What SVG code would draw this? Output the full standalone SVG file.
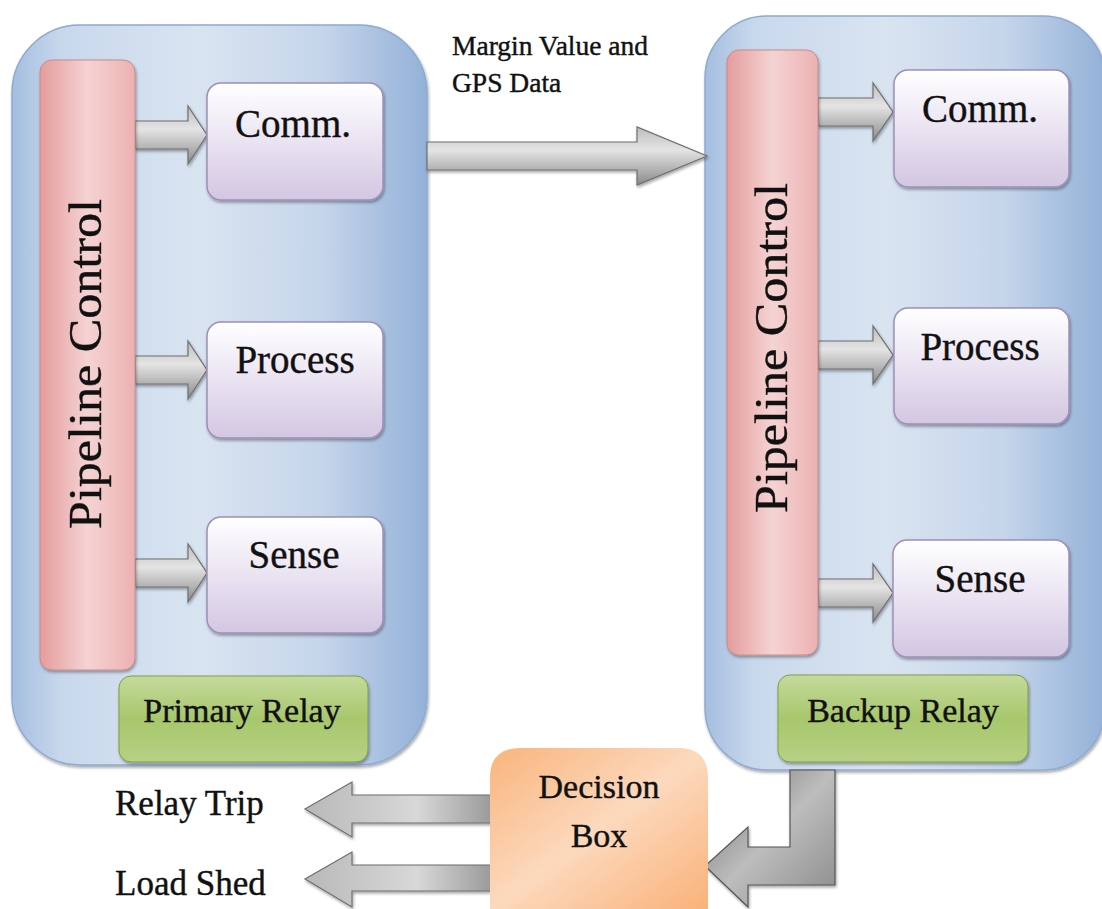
<svg xmlns="http://www.w3.org/2000/svg" width="1102" height="909" viewBox="0 0 1102 909">
<defs>
<linearGradient id="gCont" x1="0" y1="0" x2="1" y2="0">
<stop offset="0" stop-color="#a4bee0"/>
<stop offset="0.12" stop-color="#c8d8ec"/>
<stop offset="0.45" stop-color="#d9e4f1"/>
<stop offset="0.75" stop-color="#c5d5ea"/>
<stop offset="1" stop-color="#93b1d8"/>
</linearGradient>
<linearGradient id="gPipe" x1="0" y1="0" x2="1" y2="0">
<stop offset="0" stop-color="#e59c9c"/>
<stop offset="0.5" stop-color="#f5d3d3"/>
<stop offset="1" stop-color="#ecb1b1"/>
</linearGradient>
<linearGradient id="gBox" x1="0" y1="0" x2="0" y2="1">
<stop offset="0" stop-color="#ffffff"/>
<stop offset="0.45" stop-color="#ece6f3"/>
<stop offset="1" stop-color="#d3c6e2"/>
</linearGradient>
<linearGradient id="gGreen" x1="0" y1="0" x2="0" y2="1">
<stop offset="0" stop-color="#c4da9c"/>
<stop offset="0.5" stop-color="#a8c76c"/>
<stop offset="1" stop-color="#b6d184"/>
</linearGradient>
<linearGradient id="gOrange" x1="0" y1="0" x2="1" y2="1">
<stop offset="0" stop-color="#f9b47c"/>
<stop offset="0.5" stop-color="#fcd9bd"/>
<stop offset="1" stop-color="#f9b27a"/>
</linearGradient>
<linearGradient id="gArrH" x1="0" y1="0" x2="0" y2="1">
<stop offset="0" stop-color="#bdbdbd"/>
<stop offset="0.4" stop-color="#e4e4e4"/>
<stop offset="1" stop-color="#8a8a8a"/>
</linearGradient>
<linearGradient id="gArrL" x1="0" y1="0" x2="1" y2="0">
<stop offset="0" stop-color="#b8b8b8"/>
<stop offset="0.6" stop-color="#d8d8d8"/>
<stop offset="1" stop-color="#9a9a9a"/>
</linearGradient>
<linearGradient id="gBent" x1="0" y1="0" x2="1" y2="1">
<stop offset="0" stop-color="#6e6e6e"/>
<stop offset="0.5" stop-color="#bdbdbd"/>
<stop offset="1" stop-color="#8a8a8a"/>
</linearGradient>
<filter id="sh" x="-10%" y="-10%" width="120%" height="120%">
<feDropShadow dx="1" dy="2" stdDeviation="1.5" flood-color="#000" flood-opacity="0.35"/>
</filter>
</defs>
<style>
.cont{fill:url(#gCont);stroke:#8eaad0;stroke-width:1.5;filter:url(#sh)}
.pipe{fill:url(#gPipe);stroke:#c98a8a;stroke-width:1;filter:url(#sh)}
.box{fill:url(#gBox);stroke:#9d90b8;stroke-width:1.5;filter:url(#sh)}
.grn{fill:url(#gGreen);stroke:#7f9f45;stroke-width:1;filter:url(#sh)}
.org{fill:url(#gOrange);stroke:none}
.arr{fill:url(#gArrH);stroke:#6f6f6f;stroke-width:1.2;filter:url(#sh)}
.arrl{fill:url(#gArrL);stroke:#6f6f6f;stroke-width:1.2;filter:url(#sh)}
.bent{fill:url(#gBent);stroke:#555;stroke-width:1.2;filter:url(#sh)}
text{font-family:"Liberation Serif","Times New Roman",serif;fill:#111;stroke:#111;stroke-width:0.4}
.t39{font-size:39px}
.t46{font-size:46px}
.t34{font-size:34px}
.t35{font-size:35px}
.t27{font-size:27.5px}
</style>

<g id="primary-relay">
<rect class="cont" x="12" y="25" width="415" height="740" rx="68"/>
</g>
<g id="backup-relay">
<rect class="cont" x="705" y="16" width="400" height="754" rx="62"/>
</g>

<g id="connectors">
<path id="c-p-comm" class="arr" d="M135,121 H188 V106 L207,135 L188,164 V149 H135 Z"/>
<path id="c-p-process" class="arr" d="M135,356 H188 V341 L207,370 L188,399 V384 H135 Z"/>
<path id="c-p-sense" class="arr" d="M135,559 H188 V544 L207,573 L188,602 V587 H135 Z"/>
<path id="c-b-comm" class="arr" d="M818,98 H873 V83 L893,112 L873,141 V126 H818 Z"/>
<path id="c-b-process" class="arr" d="M818,341 H873 V326 L893,355 L873,384 V369 H818 Z"/>
<path id="c-b-sense" class="arr" d="M818,579 H873 V564 L893,593 L873,622 V607 H818 Z"/>
<path id="c-margin" class="arr" d="M427,142 H637 V127 L707,156 L637,185 V170 H427 Z"/>
<path id="c-trip" class="arrl" d="M492,795 H352 V782 L305,809 L352,837 V823 H492 Z"/>
<path id="c-shed" class="arrl" d="M492,865 H352 V852 L305,879 L352,907 V891 H492 Z"/>
<path id="c-bent" class="bent" d="M790,770 H835 V885 H748 V907 L705,866 L748,827 V847 H790 Z"/>
</g>

<g id="primary-pipeline">
<rect class="pipe" x="40" y="60" width="95" height="610" rx="12"/>
<text class="t46" transform="translate(101,364) rotate(-90)" text-anchor="middle" textLength="330" lengthAdjust="spacingAndGlyphs">Pipeline Control</text>
</g>
<g id="primary-comm">
<rect class="box" x="207" y="83" width="176" height="117" rx="14"/>
<text class="t39" x="293" y="137" text-anchor="middle">Comm.</text>
</g>
<g id="primary-process">
<rect class="box" x="207" y="322" width="176" height="116" rx="14"/>
<text class="t39" x="295" y="373" text-anchor="middle">Process</text>
</g>
<g id="primary-sense">
<rect class="box" x="207" y="517" width="176" height="116" rx="14"/>
<text class="t39" x="294" y="568" text-anchor="middle">Sense</text>
</g>
<g id="primary-label">
<rect class="grn" x="119" y="676" width="249" height="86" rx="12"/>
<text class="t34" x="242" y="722" text-anchor="middle">Primary Relay</text>
</g>

<g id="backup-pipeline">
<rect class="pipe" x="727" y="50" width="91" height="605" rx="12"/>
<text class="t46" transform="translate(787,348) rotate(-90)" text-anchor="middle" textLength="330" lengthAdjust="spacingAndGlyphs">Pipeline Control</text>
</g>
<g id="backup-comm">
<rect class="box" x="894" y="70" width="175" height="117" rx="14"/>
<text class="t39" x="980" y="122" text-anchor="middle">Comm.</text>
</g>
<g id="backup-process">
<rect class="box" x="894" y="308" width="175" height="116" rx="14"/>
<text class="t39" x="980" y="360" text-anchor="middle">Process</text>
</g>
<g id="backup-sense">
<rect class="box" x="893" y="540" width="176" height="117" rx="14"/>
<text class="t39" x="980" y="592" text-anchor="middle">Sense</text>
</g>
<g id="backup-label">
<rect class="grn" x="778" y="675" width="250" height="87" rx="12"/>
<text class="t34" x="903" y="722" text-anchor="middle">Backup Relay</text>
</g>

<g id="decision-box">
<path class="org" d="M520,748 H678 Q708,748 708,778 V909 H490 V778 Q490,748 520,748 Z"/>
<text class="t34" x="599" y="798" text-anchor="middle">Decision</text>
<text class="t34" x="599" y="847" text-anchor="middle">Box</text>
</g>

<g id="labels">
<text class="t27" x="452" y="55">Margin Value and</text>
<text class="t27" x="452" y="92">GPS Data</text>
<text class="t35" x="115" y="815">Relay Trip</text>
<text class="t35" x="115" y="895">Load Shed</text>
</g>
</svg>
